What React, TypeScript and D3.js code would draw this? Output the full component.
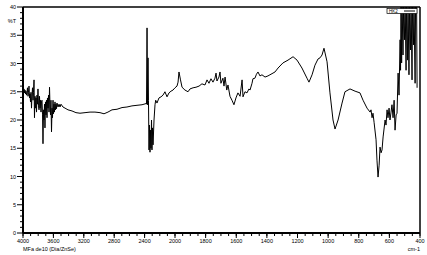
import React from "react";
import * as d3 from "d3";

const WAVENUMBERS = [
  4000, 3993, 3987, 3980, 3974, 3967, 3961, 3954, 3947, 3941, 3934, 3928, 3921, 3914, 3908, 3901, 3895, 3888, 3882, 3875,
  3868, 3862, 3855, 3849, 3842, 3836, 3829, 3822, 3816, 3809, 3803, 3796, 3789, 3783, 3776, 3770, 3763, 3757, 3750, 3743,
  3737, 3730, 3724, 3717, 3711, 3704, 3697, 3691, 3684, 3678, 3671, 3664, 3658, 3651, 3645, 3638, 3632, 3625, 3618, 3612,
  3605, 3599, 3592, 3586, 3579, 3572, 3566, 3559, 3553, 3539, 3526, 3513, 3500,
  3474, 3447, 3408, 3355, 3303, 3250, 3184, 3118, 3053, 2987, 2934, 2882, 2829, 2763, 2697, 2632, 2566, 2500, 2434,
  2382, 2375, 2368, 2362, 2355, 2349, 2342, 2336, 2329, 2322, 2316, 2309, 2303, 2296, 2289, 2276, 2263, 2254, 2237, 2211,
  2184, 2158, 2132, 2105, 2079, 2053, 2026, 2000,
  1987, 1980, 1974, 1964, 1954, 1935, 1915, 1902, 1882, 1863, 1843, 1824, 1804, 1791, 1778, 1765, 1752, 1739, 1732, 1726,
  1713, 1706, 1700, 1687, 1680, 1673, 1662, 1654, 1641, 1628, 1615, 1602, 1589, 1575, 1562, 1556, 1543, 1530, 1517, 1510,
  1497, 1491, 1478, 1468, 1458, 1445, 1432, 1412, 1393, 1380, 1347, 1327, 1295, 1262, 1229, 1203, 1171, 1138, 1125, 1105,
  1086, 1066, 1053, 1040, 1027, 1007, 988, 968, 955, 935, 909, 890, 857, 824, 792, 772, 746, 726, 720, 713,
  707, 700, 687, 681, 674, 667, 661, 654, 648, 641, 628, 622, 615, 609, 602, 596, 589, 583, 576, 569,
  563, 556, 550, 543, 537, 530, 527, 524, 520, 517, 511, 507, 501, 497, 491, 488, 481, 478, 472, 468,
  462, 458, 452, 449, 442, 439, 432, 429, 422, 419,
];

const TRANSMITTANCE = [
  25.3, 24.9, 25.5, 24.8, 25.3, 24.6, 25.1, 24.4, 24.9, 25.7, 24.2, 24.9, 26.0, 23.9, 24.6, 23.2, 24.9, 22.1, 24.2, 25.7,
  23.5, 24.9, 27.1, 20.4, 24.2, 22.1, 23.9, 21.4, 24.4, 22.8, 25.5, 22.5, 21.8, 24.2, 22.1, 23.5, 21.4, 23.2, 23.5, 20.9,
  15.8, 21.8, 20.0, 22.8, 18.6, 23.2, 20.9, 23.5, 20.4, 23.9, 22.1, 24.4, 21.4, 25.8, 22.7, 20.9, 23.5, 17.9, 22.1, 20.4,
  23.5, 21.1, 22.8, 21.4, 23.2, 21.8, 22.8, 22.0, 23.0, 22.3, 22.8, 22.3, 22.8,
  22.3, 22.1, 21.8, 21.6, 21.3, 21.2, 21.3, 21.4, 21.4, 21.3, 21.1, 21.4, 21.8, 21.9, 22.2, 22.3, 22.5, 22.6, 22.7,
  22.9, 22.8, 36.3, 22.7, 31.0, 23.5, 14.7, 19.1, 14.3, 18.2, 15.0, 20.0, 14.7, 18.6, 15.6, 20.0, 22.7, 23.5, 23.0, 23.9,
  24.1, 24.4, 25.0, 24.1, 24.8, 25.1, 25.3, 25.7,
  26.0, 26.7, 28.5, 27.1, 25.8, 25.3, 25.0, 25.5, 25.7, 25.8, 26.0, 26.4, 26.2, 27.1, 26.5, 27.3, 26.7, 27.4, 28.3, 26.9,
  27.6, 28.5, 26.5, 27.4, 26.0, 27.6, 25.3, 26.2, 24.2, 23.5, 22.7, 23.9, 24.8, 24.2, 27.1, 24.1, 25.0, 24.8, 25.5, 25.3,
  26.5, 27.3, 27.4, 28.1, 28.5, 27.8, 28.0, 27.6, 27.8, 28.0, 28.5, 29.2, 30.1, 30.6, 31.2, 30.6, 29.2, 27.4, 26.7, 28.0,
  29.7, 30.8, 31.0, 31.5, 32.7, 30.3, 24.8, 20.0, 18.4, 20.0, 23.0, 25.0, 25.5, 25.1, 24.8, 23.5, 22.1, 21.4, 21.8, 20.4,
  21.2, 19.6, 16.5, 12.9, 9.9, 12.0, 15.2, 14.2, 14.7, 17.0, 20.0, 19.1, 21.8, 20.4, 22.1, 20.0, 21.4, 22.7, 20.4, 23.5,
  18.2, 20.9, 21.2, 28.3, 24.4, 34.2, 28.8, 40.4, 30.1, 40.4, 31.5, 40.4, 34.2, 40.4, 28.8, 40.4, 30.6, 40.4, 28.0, 40.4,
  32.4, 40.4, 27.1, 40.4, 33.3, 40.4, 26.5, 40.4, 40.4, 25.7,
];

const X_TICK_LABELS = [4000, 3600, 3200, 2800, 2400, 2000, 1800, 1600, 1400, 1200, 1000, 800, 600, 400];
const Y_TICK_LABELS = [0, 5, 10, 15, 20, 25, 30, 35, 40];
const SERIES_NAME = "HK2";
const Y_TITLE = "%T";
const X_TITLE = "cm-1";
const SAMPLE_NAME = "MFa de10 (Dia/ZnSe)";

export default function App() {
  const W = 427;
  const H = 255;
  const left = 23, right = 420, top = 7, bottom = 233;
  const x = d3.scaleLinear().domain([4000, 2000, 400]).range([left, 175, right]);
  const y = d3.scaleLinear().domain([0, 40]).range([bottom, top]);
  const pts: [number, number][] = WAVENUMBERS.map((w, i) => [w, TRANSMITTANCE[i]]);
  const line = d3
    .line<[number, number]>()
    .x((d) => x(d[0]))
    .y((d) => y(d[1]));

  const minorX: number[] = [];
  for (let v = 4000; v > 2000; v -= 100) minorX.push(v);
  for (let v = 2000; v >= 400; v -= 50) minorX.push(v);
  const minorY = d3.range(0, 41, 1);
  const font = "Arial, 'Liberation Sans', sans-serif";

  return (
    <svg
      width={W}
      height={H}
      style={{ position: "absolute", left: 0, top: 0, background: "#fff" }}
      fontFamily={font}
    >
      <rect x={0} y={0} width={W} height={H} fill="#fff" />
      <defs>
        <clipPath id="plot">
          <rect x={left} y={top} width={right - left} height={bottom - top} />
        </clipPath>
      </defs>
      <path d={line(pts) || ""} fill="none" stroke="#000" strokeWidth={1} clipPath="url(#plot)" />

      {/* frame */}
      <line x1={left} x2={right} y1={top} y2={top} stroke="#000" strokeWidth={1.5} />
      <line x1={right} x2={right} y1={top} y2={bottom} stroke="#000" strokeWidth={1.5} />
      <line x1={left} x2={left} y1={top} y2={bottom} stroke="#000" strokeWidth={2} />
      <line x1={left} x2={right} y1={bottom} y2={bottom} stroke="#000" strokeWidth={2} />

      {/* y ticks */}
      {minorY.map((v) => (
        <line key={"my" + v} x1={left - (v % 5 === 0 ? 6 : 3)} x2={left} y1={y(v)} y2={y(v)} stroke="#000" strokeWidth={1} />
      ))}
      {Y_TICK_LABELS.map((v) => (
        <text key={"ly" + v} x={16} y={y(v) + 2} fontSize={5.5} textAnchor="end" fill="#000">
          {v}
        </text>
      ))}
      <text x={16} y={23} fontSize={5.5} textAnchor="end" fill="#000">
        {Y_TITLE}
      </text>

      {/* x ticks */}
      {minorX.map((v) => (
        <line key={"mx" + v} x1={x(v)} x2={x(v)} y1={bottom} y2={bottom + 3} stroke="#000" strokeWidth={1} />
      ))}
      {X_TICK_LABELS.map((v) => (
        <g key={"lx" + v}>
          <line x1={x(v)} x2={x(v)} y1={bottom} y2={bottom + 5} stroke="#000" strokeWidth={1} />
          <text x={x(v)} y={243} fontSize={5.5} textAnchor="middle" fill="#000">
            {v}
          </text>
        </g>
      ))}
      <text x={right} y={251} fontSize={5.5} textAnchor="end" fill="#000">
        {X_TITLE}
      </text>
      <text x={left} y={251} fontSize={5.5} textAnchor="start" fill="#000">
        {SAMPLE_NAME}
      </text>

      {/* legend */}
      <rect x={387} y={8.5} width={30} height={5} fill="#fff" stroke="#000" strokeWidth={0.7} />
      <text x={389} y={12.7} fontSize={4.5} fill="#000">
        {SERIES_NAME}
      </text>
      <line x1={404} x2={415} y1={11} y2={11} stroke="#000" strokeWidth={1} />
    </svg>
  );
}
